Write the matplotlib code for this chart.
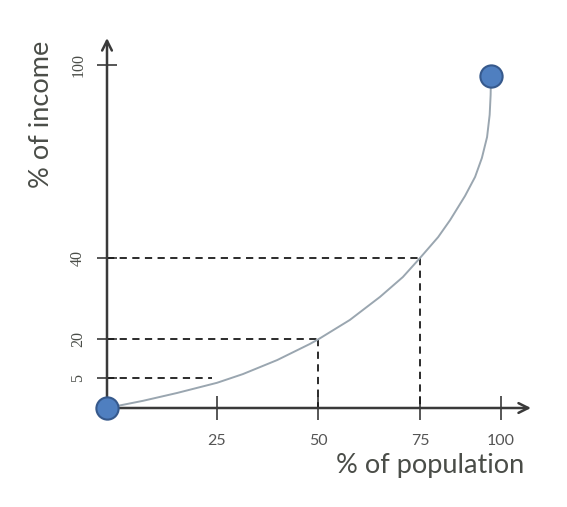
import numpy as np
import matplotlib
matplotlib.use("Agg")
import matplotlib.pyplot as plt

# ---- data ----
pop_ticks = [25, 50, 75, 100]
income_ticks = [5, 20, 40, 100]
pop_tick_labels = ["25", "50", "75", "100"]
income_tick_labels = ["5", "20", "40", "100"]

# guide (dashed) reference points
guide_pop = [25, 50, 75]
guide_income = [5, 20, 40]
guide_vertical = [False, True, True]

# Lorenz-type curve
curve_pop = [0, 8.2, 15.9, 25, 31.4, 39.9, 48.0, 50.2, 57.8, 65.2, 70.8, 75,
             80.6, 84.3, 88.9, 92.0, 94.1, 95.7, 96.5, 96.8, 96.9]
curve_income = [0, 1.2, 2.5, 4.2, 6.5, 11.9, 18.1, 20, 24.7, 30.4, 35.3, 40,
                 46.5, 51.8, 59.3, 65.2, 71.1, 77.6, 84.5, 90.7, 96.6]

# ---- layout: the schematic axes are not linear; map values to positions ----
W, H = 567, 507
x_val_anchor = np.array([-100, 0, 25, 50, 75, 100, 200], float)
x_pos_anchor = np.array([-333, 107, 217, 318, 420, 501, 825], float)
y_val_anchor = np.array([-100, 0, 5, 20, 40, 100, 200], float)
y_pos_anchor = np.array([-501, 99, 129, 168, 249, 442, 764], float)

def fx(v):
    return np.interp(v, x_val_anchor, x_pos_anchor)
def fx_inv(p):
    return np.interp(p, x_pos_anchor, x_val_anchor)
def fy(v):
    return np.interp(v, y_val_anchor, y_pos_anchor)
def fy_inv(p):
    return np.interp(p, y_pos_anchor, y_val_anchor)

plt.rcParams['font.family'] = ['Lato', 'DejaVu Sans']

fig = plt.figure(figsize=(W / 100, H / 100), dpi=100)
ax = fig.add_axes([0, 0, 1, 1])
ax.set_xscale('function', functions=(fx, fx_inv))
ax.set_yscale('function', functions=(fy, fy_inv))
ax.set_xlim(float(fx_inv(0)), float(fx_inv(W)))
ax.set_ylim(float(fy_inv(0)), float(fy_inv(H)))
ax.patch.set_alpha(0)

axis_col = '#3a3a3a'
text_col = '#4a4d48'
tick_text_col = '#555555'

# spines at origin (hidden, arrows drawn instead), ticks follow them
for s in ['top', 'right']:
    ax.spines[s].set_visible(False)
ax.spines['left'].set_position(('data', 0))
ax.spines['bottom'].set_position(('data', 0))
ax.spines['left'].set_visible(False)
ax.spines['bottom'].set_visible(False)

x_tip = float(fx_inv(531))
y_tip = float(fy_inv(H - 38))
ax.annotate('', xy=(x_tip, 0), xytext=(float(fx_inv(104)), 0),
            arrowprops=dict(arrowstyle='->,head_length=0.7,head_width=0.35',
                            color=axis_col, lw=1.8, shrinkA=0, shrinkB=0))
ax.annotate('', xy=(0, y_tip), xytext=(0, 0),
            arrowprops=dict(arrowstyle='->,head_length=0.7,head_width=0.35',
                            color=axis_col, lw=1.8, shrinkA=0, shrinkB=0))

ax.set_xticks(pop_ticks)
ax.set_xticklabels(pop_tick_labels)
ax.set_yticks(income_ticks)
ax.set_yticklabels(income_tick_labels)
ax.xaxis.set_minor_locator(matplotlib.ticker.NullLocator())
ax.yaxis.set_minor_locator(matplotlib.ticker.NullLocator())
ax.tick_params(axis='x', direction='inout', length=17, width=1.2, color=axis_col,
               labelsize=11.5, labelcolor=tick_text_col, pad=10)
ax.tick_params(axis='y', direction='inout', length=14, width=1.2, color=axis_col,
               labelsize=11.5, labelcolor=text_col, pad=8, labelrotation=90)
for lab in ax.get_yticklabels():
    lab.set_family(['Liberation Serif', 'DejaVu Serif'])
    lab.set_va('center')

# dashed guides
for gp, gi, vert in zip(guide_pop, guide_income, guide_vertical):
    xe = gp if vert else gp - 1.2
    ax.plot([0, xe], [gi, gi], color='#1a1a1a', lw=1.3, ls=(0, (4, 3)), zorder=2)
    if vert:
        ax.plot([gp, gp], [gi, 0], color='#1a1a1a', lw=1.3, ls=(0, (4, 3)), zorder=2)

# curve
ax.plot(curve_pop, curve_income, color='#9aa6b0', lw=1.4, zorder=3,
        solid_joinstyle='round', solid_capstyle='round')

# end points
ax.plot([curve_pop[0], curve_pop[-1]], [curve_income[0], curve_income[-1]], 'o',
        ms=16, mfc='#4f7fc0', mec='#36598c', mew=1.5, zorder=5, clip_on=False)

# axis titles
ax.text(float(fx_inv(430)), float(fy_inv(H - 465)), '% of population',
        ha='center', va='center', fontsize=19.5, color=text_col)
ax.text(float(fx_inv(42)), float(fy_inv(H - 114)), '% of income',
        ha='center', va='center', rotation=90, fontsize=19.5, color=text_col)

fig.savefig('out.png', dpi=100, facecolor='white')
